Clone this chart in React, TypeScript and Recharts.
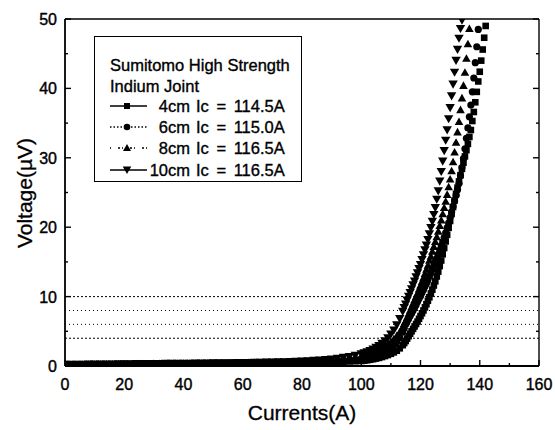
import React from 'react';
import { ScatterChart, Scatter, XAxis, YAxis, ReferenceLine } from 'recharts';

const FONT = '"Liberation Sans", Arial, Helvetica, sans-serif';
const TEXT_STROKE = '0.35px #000';

// Current (A) sample grid shared by all four series
const currents = [
  0, 2, 4, 6, 8, 10, 12, 14, 16, 18,
  20, 22, 24, 26, 28, 30, 32, 34, 36, 38,
  40, 42, 44, 46, 48, 50, 52, 54, 56, 58,
  60, 62, 64, 66, 68, 70, 72, 74, 76, 78,
  80, 82, 84, 86, 88, 90, 92, 94, 96, 98,
  100, 101, 102, 103, 104, 105, 106, 107, 108, 109,
  110, 111, 112, 113, 114, 114.5, 115, 115.5, 116, 116.5,
  117, 117.5, 118, 118.5, 119, 119.5, 120, 120.5, 121, 121.5,
  122, 122.5, 123, 123.5, 124, 124.5, 125, 125.5, 126, 126.5,
  127, 127.5, 128, 128.5, 129, 129.5, 130, 130.5, 131, 131.5,
  132, 132.5, 133, 133.5, 134, 134.5, 135, 135.5, 136, 136.5,
  137, 137.5, 138, 138.5, 139, 139.5, 140, 140.5, 141, 141.5,
  142,
];

// Voltage (µV) per series
const v4cm = [
  0.14, 0.15, 0.16, 0.16, 0.17, 0.18, 0.19, 0.2, 0.2, 0.21,
  0.22, 0.23, 0.24, 0.24, 0.25, 0.26, 0.27, 0.28, 0.29, 0.29,
  0.3, 0.31, 0.32, 0.33, 0.34, 0.35, 0.36, 0.37, 0.37, 0.38,
  0.39, 0.4, 0.41, 0.42, 0.43, 0.44, 0.45, 0.46, 0.47, 0.48,
  0.49, 0.5, 0.52, 0.53, 0.55, 0.57, 0.59, 0.62, 0.65, 0.68,
  0.72, 0.77, 0.83, 0.9, 0.98, 1.07, 1.17, 1.29, 1.43, 1.58,
  1.76, 1.96, 2.2, 2.55, 3.0, 3.3, 3.6, 3.95, 4.3, 4.65,
  5.0, 5.35, 5.7, 6.05, 6.4, 6.8, 7.2, 7.6, 8.0, 8.45,
  8.9, 9.4, 9.9, 10.45, 11.0, 11.6, 12.2, 12.9, 13.6, 14.4,
  15.2, 16.1, 17.0, 17.95, 18.9, 19.9, 20.9, 21.9, 22.9, 23.85,
  24.8, 25.7, 26.6, 27.5, 28.4, 29.3, 30.2, 31.1, 32.0, 33.0,
  34.0, 35.3, 36.6, 38.0, 39.5, 41.0, 42.4, 44.0, 45.6, 47.3,
  49.0,
];
const v6cm = [
  0.16, 0.17, 0.18, 0.18, 0.19, 0.2, 0.21, 0.22, 0.22, 0.23,
  0.24, 0.25, 0.26, 0.26, 0.27, 0.28, 0.29, 0.3, 0.31, 0.31,
  0.32, 0.33, 0.34, 0.35, 0.36, 0.37, 0.38, 0.39, 0.4, 0.41,
  0.42, 0.43, 0.44, 0.45, 0.46, 0.47, 0.48, 0.5, 0.51, 0.53,
  0.55, 0.57, 0.6, 0.63, 0.67, 0.71, 0.76, 0.82, 0.89, 0.97,
  1.05, 1.14, 1.24, 1.35, 1.48, 1.62, 1.78, 1.96, 2.16, 2.4,
  2.7, 3.05, 3.5, 4.1, 4.9, 5.45, 6.0, 6.4, 6.8, 7.2,
  7.6, 8.0, 8.4, 8.8, 9.25, 9.7, 10.1, 10.55, 11.0, 11.45,
  11.9, 12.4, 12.9, 13.4, 13.9, 14.45, 15.0, 15.5, 16.1, 16.7,
  17.3, 17.9, 18.5, 19.2, 19.9, 20.6, 21.4, 22.2, 23.0, 23.8,
  24.6, 25.4, 26.3, 27.4, 28.6, 29.9, 31.3, 32.8, 34.3, 35.9,
  37.6, 39.5, 41.5, 43.7, 46.0, 48.5,
];
const v8cm = [
  0.18, 0.19, 0.2, 0.2, 0.21, 0.22, 0.23, 0.24, 0.24, 0.25,
  0.26, 0.27, 0.28, 0.28, 0.29, 0.3, 0.31, 0.32, 0.33, 0.33,
  0.34, 0.35, 0.36, 0.37, 0.38, 0.39, 0.4, 0.41, 0.42, 0.43,
  0.44, 0.45, 0.46, 0.47, 0.48, 0.5, 0.51, 0.53, 0.55, 0.57,
  0.6, 0.63, 0.67, 0.72, 0.78, 0.85, 0.93, 1.02, 1.12, 1.23,
  1.35, 1.48, 1.62, 1.78, 1.95, 2.15, 2.36, 2.6, 2.86, 3.15,
  3.48, 3.88, 4.35, 4.9, 5.6, 6.1, 6.5, 7.0, 7.5, 8.0,
  8.5, 9.0, 9.5, 10.0, 10.5, 11.05, 11.6, 12.15, 12.7, 13.3,
  13.9, 14.5, 15.2, 15.8, 16.5, 17.2, 17.9, 18.6, 19.4, 20.2,
  21.0, 21.9, 22.8, 23.7, 24.7, 25.8, 26.9, 28.1, 29.4, 30.8,
  32.2, 33.7, 35.2, 36.9, 38.6, 40.4, 42.3, 44.3, 46.4, 48.6,
];
const v10cm = [
  0.2, 0.21, 0.22, 0.22, 0.23, 0.24, 0.25, 0.26, 0.26, 0.27,
  0.28, 0.29, 0.3, 0.3, 0.31, 0.32, 0.33, 0.34, 0.35, 0.35,
  0.36, 0.37, 0.38, 0.39, 0.4, 0.41, 0.42, 0.43, 0.44, 0.45,
  0.46, 0.47, 0.49, 0.5, 0.52, 0.54, 0.56, 0.58, 0.61, 0.64,
  0.68, 0.72, 0.77, 0.83, 0.9, 0.98, 1.08, 1.2, 1.34, 1.52,
  1.72, 1.85, 2.0, 2.2, 2.42, 2.66, 2.92, 3.22, 3.58, 4.02,
  4.55, 5.15, 5.9, 6.8, 7.85, 8.4, 8.9, 9.45, 10.0, 10.55,
  11.1, 11.65, 12.2, 12.8, 13.4, 14.0, 14.6, 15.3, 16.0, 16.7,
  17.4, 18.2, 19.0, 19.9, 20.8, 21.8, 22.8, 24.0, 25.2, 26.6,
  28.0, 29.5, 31.0, 32.5, 34.0, 35.6, 37.2, 38.9, 40.6, 42.3,
  44.0, 45.6, 47.2, 48.6, 49.8,
];

const seriesLabels = ['4cm', '6cm', '8cm', '10cm'];
const criticalCurrents = ['114.5', '115.0', '116.5', '116.5'];
const criterionVoltages = [10, 8, 6, 4];
const criterionDash = ['2 2', '1 3', '1 3', '2 2'];
const legendTitle = ['Sumitomo High Strength', 'Indium Joint'];

const xMajorTicks = [0, 20, 40, 60, 80, 100, 120, 140, 160];
const xMinorTicks = [10, 30, 50, 70, 90, 110, 130, 150];
const yMajorTicks = [0, 10, 20, 30, 40, 50];
const yMinorTicks = [5, 15, 25, 35, 45];
const xTicks = [...xMajorTicks, ...xMinorTicks].sort((a, b) => a - b);
const yTicks = [...yMajorTicks, ...yMinorTicks].sort((a, b) => a - b);

const toPoints = (vals: number[]) => vals.map((v, k) => ({ current: currents[k], voltage: v }));
const data4 = toPoints(v4cm);
const data6 = toPoints(v6cm);
const data8 = toPoints(v8cm);
const data10 = toPoints(v10cm);

const Square = (p: any) => <rect x={p.cx - 3.3} y={p.cy - 3.3} width={6.6} height={6.6} fill="#000" />;
const Dot = (p: any) => <circle cx={p.cx} cy={p.cy} r={3.6} fill="#000" />;
const TriUp = (p: any) => (
  <polygon points={`${p.cx},${p.cy - 4.3} ${p.cx + 4.3},${p.cy + 3.3} ${p.cx - 4.3},${p.cy + 3.3}`} fill="#000" />
);
const TriDown = (p: any) => (
  <polygon points={`${p.cx - 4.7},${p.cy - 3.8} ${p.cx + 4.7},${p.cy - 3.8} ${p.cx},${p.cy + 4.4}`} fill="#000" />
);

const BottomTick = (props: any) => {
  const { x, y, payload } = props;
  const major = xMajorTicks.includes(payload.value);
  return (
    <g>
      <line x1={x} x2={x} y1={y} y2={y - (major ? 6 : 3)} stroke="#000" strokeWidth={1.4} />
      {major && (
        <text x={x} y={y + 24} textAnchor="middle" fontSize={16} fontFamily={FONT} fill="#000" stroke="#000" strokeWidth={0.4}>
          {payload.value}
        </text>
      )}
    </g>
  );
};
const TopTick = (props: any) => {
  const { x, y, payload } = props;
  const major = xMajorTicks.includes(payload.value);
  return <line x1={x} x2={x} y1={y} y2={y + (major ? 6 : 3)} stroke="#000" strokeWidth={1.4} />;
};
const LeftTick = (props: any) => {
  const { x, y, payload } = props;
  const major = yMajorTicks.includes(payload.value);
  return (
    <g>
      <line x1={x} x2={x + (major ? 6 : 3)} y1={y} y2={y} stroke="#000" strokeWidth={1.4} />
      {major && (
        <text x={x - 8} y={y + 6} textAnchor="end" fontSize={16} fontFamily={FONT} fill="#000" stroke="#000" strokeWidth={0.4}>
          {payload.value}
        </text>
      )}
    </g>
  );
};
const RightTick = (props: any) => {
  const { x, y, payload } = props;
  const major = yMajorTicks.includes(payload.value);
  return <line x1={x} x2={x - (major ? 6 : 3)} y1={y} y2={y} stroke="#000" strokeWidth={1.4} />;
};

const LegendSymbol = ({ kind }: { kind: number }) => {
  const dash = kind === 1 ? '1.5 2' : kind === 2 ? '1 7 2 2' : undefined;
  const cx = 17;
  const cy = 8;
  let marker: React.ReactNode = null;
  if (kind === 0) marker = <rect x={cx - 3} y={cy - 3} width={6} height={6} fill="#000" />;
  if (kind === 1) marker = <circle cx={cx} cy={cy} r={3.3} fill="#000" />;
  if (kind === 2) marker = <polygon points={`${cx},${cy - 4} ${cx + 4},${cy + 3} ${cx - 4},${cy + 3}`} fill="#000" />;
  if (kind === 3) marker = <polygon points={`${cx - 4.3},${cy - 3.5} ${cx + 4.3},${cy - 3.5} ${cx},${cy + 4}`} fill="#000" />;
  return (
    <svg width={38} height={16} style={{ position: 'absolute', left: 0, top: 2 }}>
      <line x1={0} x2={37} y1={cy} y2={cy} stroke="#000" strokeWidth={1.3} strokeDasharray={dash} />
      {marker}
    </svg>
  );
};

const LegendBox = () => {
  const rowTops = [59, 80, 101, 123];
  return (
    <div
      style={{
        position: 'absolute',
        left: 94,
        top: 36,
        width: 208,
        height: 146,
        border: '1.5px solid #000',
        boxSizing: 'border-box',
        background: '#fff',
        fontFamily: FONT,
        fontSize: 16.5,
        color: '#000',
        lineHeight: '20px',
        WebkitTextStroke: TEXT_STROKE,
      }}
    >
      <div style={{ position: 'absolute', left: 15, top: 18, whiteSpace: 'nowrap' }}>{legendTitle[0]}</div>
      <div style={{ position: 'absolute', left: 15, top: 39, whiteSpace: 'nowrap' }}>{legendTitle[1]}</div>
      {seriesLabels.map((s, k) => (
        <div key={s} style={{ position: 'absolute', left: 15, top: rowTops[k], width: 190, height: 20 }}>
          <LegendSymbol kind={k} />
          <span style={{ position: 'absolute', left: 33, width: 47, textAlign: 'right', whiteSpace: 'nowrap' }}>{s}</span>
          <span style={{ position: 'absolute', left: 86, whiteSpace: 'nowrap', wordSpacing: 3 }}>Ic = {criticalCurrents[k]}A</span>
        </div>
      ))}
    </div>
  );
};

export default function App() {
  return (
    <div style={{ position: 'absolute', left: 0, top: 0, width: 555, height: 430, background: '#fff', fontFamily: FONT }}>
      <ScatterChart width={555} height={430} margin={{ top: 18, right: 15, bottom: 0, left: 0 }}>
        <XAxis
          type="number"
          dataKey="current"
          domain={[0, 160]}
          ticks={xTicks}
          interval={0}
          allowDataOverflow
          height={64}
          tickSize={0}
          tickMargin={0}
          tickLine={false}
          tick={BottomTick}
          axisLine={{ stroke: '#000', strokeWidth: 1.8 }}
        />
        <XAxis
          xAxisId="top"
          orientation="top"
          type="number"
          domain={[0, 160]}
          ticks={xTicks}
          interval={0}
          allowDataOverflow
          height={1}
          tickSize={0}
          tickMargin={0}
          tickLine={false}
          tick={TopTick}
          axisLine={{ stroke: '#000', strokeWidth: 1.4 }}
        />
        <YAxis
          type="number"
          dataKey="voltage"
          domain={[0, 50]}
          ticks={yTicks}
          interval={0}
          allowDataOverflow
          width={65}
          tickSize={0}
          tickMargin={0}
          tickLine={false}
          tick={LeftTick}
          axisLine={{ stroke: '#000', strokeWidth: 1.8 }}
        />
        <YAxis
          yAxisId="right"
          orientation="right"
          type="number"
          domain={[0, 50]}
          ticks={yTicks}
          interval={0}
          allowDataOverflow
          width={1}
          tickSize={0}
          tickMargin={0}
          tickLine={false}
          tick={RightTick}
          axisLine={{ stroke: '#000', strokeWidth: 1.4 }}
        />
        {criterionVoltages.map((v, k) => (
          <ReferenceLine key={v} y={v} stroke="#000" strokeWidth={1} strokeDasharray={criterionDash[k]} />
        ))}
        <Scatter name={seriesLabels[0]} data={data4} shape={Square} isAnimationActive={false} />
        <Scatter name={seriesLabels[1]} data={data6} shape={Dot} isAnimationActive={false} />
        <Scatter name={seriesLabels[2]} data={data8} shape={TriUp} isAnimationActive={false} />
        <Scatter name={seriesLabels[3]} data={data10} shape={TriDown} isAnimationActive={false} />
      </ScatterChart>
      <LegendBox />
      <div
        style={{
          position: 'absolute',
          left: 202,
          top: 401,
          width: 200,
          height: 24,
          lineHeight: '24px',
          textAlign: 'center',
          fontSize: 21,
          whiteSpace: 'nowrap',
          WebkitTextStroke: '0.3px #000',
        }}
      >
        Currents(A)
      </div>
      <div
        style={{
          position: 'absolute',
          left: -75,
          top: 180.5,
          width: 200,
          height: 24,
          lineHeight: '24px',
          textAlign: 'center',
          fontSize: 21,
          whiteSpace: 'nowrap',
          transform: 'rotate(-90deg)',
          WebkitTextStroke: '0.3px #000',
        }}
      >
        Voltage(µV)
      </div>
    </div>
  );
}
